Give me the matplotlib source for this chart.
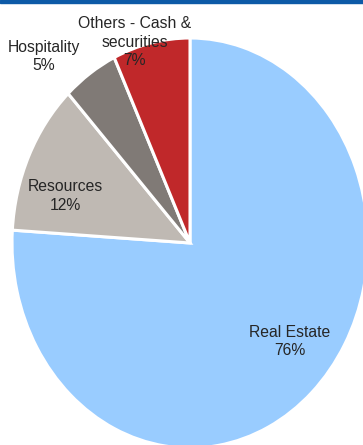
import matplotlib
matplotlib.use("Agg")
import matplotlib.pyplot as plt
from matplotlib.patches import Rectangle

# segment data (clockwise from 12 o'clock)
labels = ["Real Estate", "Resources", "Hospitality", "Others - Cash &\nsecurities"]
shares = [76, 12, 5, 7]
colors = ["#99CCFF", "#BFB9B3", "#807A76", "#C0282A"]

# where each label sits (data coords, pie radius = 1)
label_xy = [(0.56, -0.48), (-0.70, 0.23), (-0.82, 0.91), (-0.31, 0.98)]

plt.rcParams["font.family"] = ["Liberation Sans", "DejaVu Sans"]

fig = plt.figure(figsize=(3.63, 4.45), dpi=100)
ax = fig.add_axes([0, 0, 1, 1])

wedges, _ = ax.pie(shares, colors=colors, startangle=90, counterclock=False,
                   wedgeprops=dict(edgecolor="white", linewidth=2.2))
ax.set_aspect("auto")
# pie centre at px (190, 243), radii 178 px wide, 205 px tall
ax.set_xlim(-190 / 178, (363 - 190) / 178)
ax.set_ylim(-(445 - 243) / 205, 243 / 205)
ax.axis("off")

for lab, val, (x, y) in zip(labels, shares, label_xy):
    ax.text(x, y, "{}\n{}%".format(lab, val), ha="center", va="center",
            fontsize=11.3, color="#262626", linespacing=1.3)

# blue rule along the top
fig.patches.append(Rectangle((0, 1 - 3 / 445), 1, 3 / 445, transform=fig.transFigure,
                             color="#0D5AA7", zorder=5))

fig.savefig("out.png", dpi=100)
